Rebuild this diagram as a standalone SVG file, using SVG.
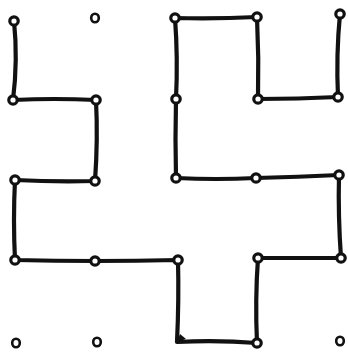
<svg xmlns="http://www.w3.org/2000/svg" width="348" height="353" viewBox="0 0 348 353">
<style>
.line{fill:none;stroke:#111;stroke-width:4.2;stroke-linejoin:round;stroke-linecap:round}
.knot{fill:#111}
.hole{fill:#fff}
.lone{fill:#fff;stroke:#111;stroke-width:2.6}
</style>
<defs>
<g id="dot"><circle class="knot" r="5.8"/><circle class="hole" r="2.6"/></g>
</defs>
<rect width="348" height="353" fill="#fff"/>
<g id="outline">
<path class="line" d="M340,14 Q336,55 338,97 Q298,99 258,99 Q259,58 257,17 Q216,19 175,18 Q178,58 176,99 Q175,139 176,178 Q216,180 256,178 Q298,177 339,175 Q338,216 341,258 Q300,258 258,258 Q255,300 257,343 Q217,340 177,342 Q179,300 178,260 Q136,261 95,261 Q55,261 15,260 Q13,220 15,180 Q55,182 95,181 Q98,140 96,100 Q54,98 13,100 Q18,60 14,21"/>
<path class="knot" d="M177,342 L186,339 L180,334 Z"/>
</g>
<g id="knots">
<use href="#dot" x="340" y="14"/>
<use href="#dot" x="338" y="97"/>
<use href="#dot" x="258" y="99"/>
<use href="#dot" x="257" y="17"/>
<use href="#dot" x="175" y="18"/>
<use href="#dot" x="176" y="99"/>
<use href="#dot" x="176" y="178"/>
<use href="#dot" x="256" y="178"/>
<use href="#dot" x="339" y="175"/>
<use href="#dot" x="341" y="258"/>
<use href="#dot" x="258" y="258"/>
<use href="#dot" x="257" y="343"/>
<use href="#dot" x="178" y="260"/>
<use href="#dot" x="95" y="261"/>
<use href="#dot" x="15" y="260"/>
<use href="#dot" x="15" y="180"/>
<use href="#dot" x="95" y="181"/>
<use href="#dot" x="96" y="100"/>
<use href="#dot" x="13" y="100"/>
<use href="#dot" x="14" y="21"/>
</g>
<g id="lone-dots">
<ellipse class="lone" cx="95" cy="18" rx="3.8" ry="4.3"/>
<ellipse class="lone" cx="16" cy="343" rx="3.8" ry="4.3"/>
<ellipse class="lone" cx="97" cy="342" rx="3.8" ry="4.3"/>
<ellipse class="lone" cx="340" cy="341" rx="3.8" ry="4.3"/>
</g>
</svg>
